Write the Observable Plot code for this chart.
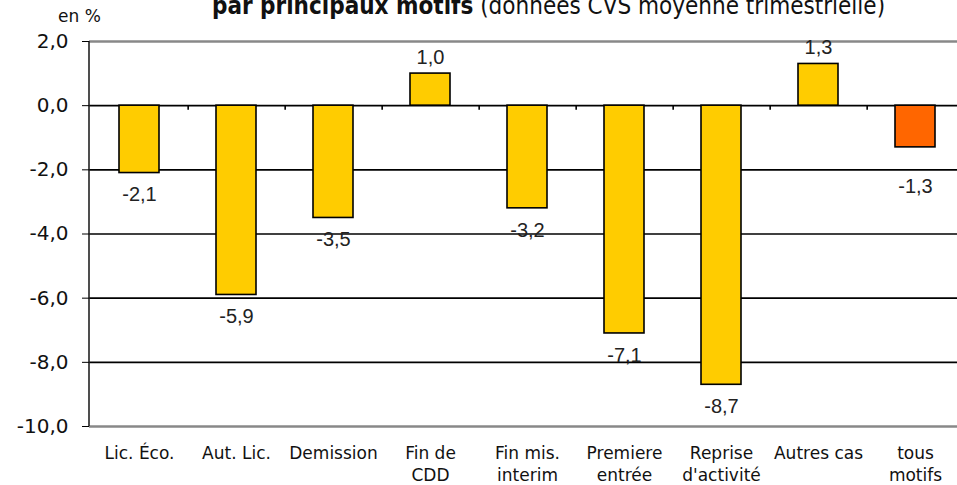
<!DOCTYPE html>
<html>
<head>
<meta charset="utf-8">
<script src="https://cdn.jsdelivr.net/npm/d3@7"></script>
<script src="https://cdn.jsdelivr.net/npm/@observablehq/plot@0.6"></script>
<style>
  html, body { margin: 0; padding: 0; background: #fff; overflow: hidden; }
  #wrap { position: relative; width: 957px; height: 485px; overflow: hidden; }
  #title { position: absolute; left: 0; width: 1097px; text-align: center; top: -6px; line-height: 1;
           font-family: "DejaVu Sans Condensed", "DejaVu Sans", sans-serif; font-size: 24px; color: #111; white-space: nowrap; }
  #unit { position: absolute; left: 58px; top: 8px; line-height: 1; font-family: "DejaVu Sans", sans-serif; font-size: 17px; color: #111; }
  #chart { position: absolute; left: 0; top: 0; }
</style>
</head>
<body>
<div id="wrap">
  <div id="title"><b>par principaux motifs</b> (données CVS moyenne trimestrielle)</div>
  <div id="unit">en %</div>
  <div id="chart"></div>
</div>
<script>
const categories = ["Lic. Éco.", "Aut. Lic.", "Demission", "Fin de\nCDD", "Fin mis.\ninterim", "Premiere\nentrée", "Reprise\nd'activité", "Autres cas", "tous\nmotifs"];
const values = [-2.1, -5.9, -3.5, 1.0, -3.2, -7.1, -8.7, 1.3, -1.3];
const barColors = ["#FFCC00", "#FFCC00", "#FFCC00", "#FFCC00", "#FFCC00", "#FFCC00", "#FFCC00", "#FFCC00", "#FF6600"];
const yTicks = [2, 0, -2, -4, -6, -8, -10];
const gridBlack = [0, -2, -4, -6, -8];
const gridGrey = [2, -10];
const totalCategory = "tous\nmotifs";

const data = categories.map((c, i) => ({cat: c, value: values[i], color: barColors[i]}));
const fmt = v => v.toFixed(1).replace(".", ",");

const W = 957, H = 485, ML = 89, MR = -8, MT = 41, MB = 59;
const step = (W - ML - MR) / categories.length;

const leftLine = (index, scales, values, dims) => {
  const ns = "http://www.w3.org/2000/svg";
  const l = document.createElementNS(ns, "line");
  l.setAttribute("x1", dims.marginLeft);
  l.setAttribute("x2", dims.marginLeft);
  l.setAttribute("y1", dims.marginTop);
  l.setAttribute("y2", dims.height - dims.marginBottom);
  l.setAttribute("stroke", "#222");
  l.setAttribute("stroke-width", 1.6);
  return l;
};

const labelFont = "Liberation Sans, Arial, sans-serif";

const chart = Plot.plot({
  width: W,
  height: H,
  marginLeft: ML,
  marginRight: MR,
  marginTop: MT,
  marginBottom: MB,
  style: {background: "transparent", overflow: "visible"},
  x: {domain: categories, paddingInner: 0.59, paddingOuter: 0.295, label: null},
  y: {domain: [-10, 2], label: null},
  marks: [
    Plot.ruleY(gridGrey, {stroke: "#888", strokeWidth: 2.5}),
    Plot.ruleY(gridBlack, {stroke: "#000", strokeWidth: 1.6}),
    Plot.barY(data, {x: "cat", y: "value", fill: "color", stroke: "#000", strokeWidth: 1.6}),
    Plot.ruleX(categories.slice(0, -1), {x: d => d, y1: 0, y2: -0.14, dx: step / 2, stroke: "#000", strokeWidth: 1.6}),
    leftLine,
    Plot.axisY({ticks: yTicks, tickFormat: fmt, tickSize: 7, tickPadding: 14, fontSize: 20, fill: "#111",
      fontFamily: "DejaVu Sans, sans-serif", label: null}),
    Plot.axisX({tickSize: 0, tickPadding: 17, fontSize: 17, lineHeight: 1.3, fill: "#111",
      fontFamily: "DejaVu Sans, sans-serif", label: null, style: {letterSpacing: "1px"}}),
    Plot.text(data.filter(d => d.value < 0 && d.cat !== totalCategory), {x: "cat", y: "value", text: d => fmt(d.value), dy: 22,
      fontSize: 20, fontFamily: labelFont, fill: "#222"}),
    Plot.text(data.filter(d => d.value < 0 && d.cat === totalCategory), {x: "cat", y: "value", text: d => fmt(d.value), dy: 39,
      fontSize: 20, fontFamily: labelFont, fill: "#222"}),
    Plot.text(data.filter(d => d.value >= 0), {x: "cat", y: "value", text: d => fmt(d.value), dy: -16,
      fontSize: 20, fontFamily: labelFont, fill: "#222"})
  ]
});
document.getElementById("chart").appendChild(chart);
</script>
</body>
</html>
